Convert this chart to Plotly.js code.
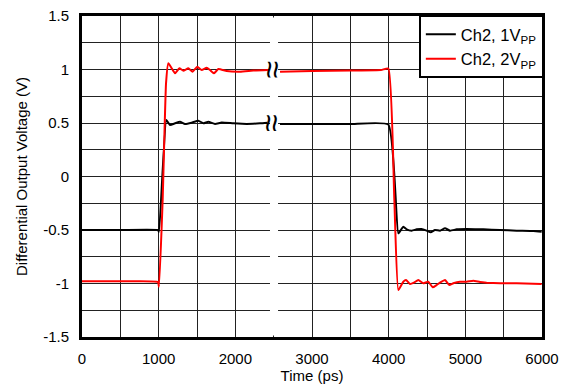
<!DOCTYPE html>
<html><head><meta charset="utf-8">
<script src="https://cdn.plot.ly/plotly-3.0.1.min.js"></script>
<style>body{margin:0;background:#fff}#chart{width:573px;height:388px}</style>
</head><body><div id="chart"></div>
<script>
const time1V = [0, 500, 990, 1004, 1100, 1148, 1213, 1278, 1343, 1430, 1517, 1583, 1648, 1735, 1822, 1974, 2148, 2322, 2420, 2500, 2583, 3000, 3500, 3996, 4126, 4191, 4235, 4300, 4365, 4430, 4495, 4548, 4604, 4670, 4735, 4800, 4887, 5017, 5235, 5452, 5670, 5887, 5996];
const volt1V = [-0.5, -0.5, -0.5, -0.516, 0.528, 0.481, 0.497, 0.512, 0.491, 0.503, 0.522, 0.497, 0.512, 0.491, 0.505, 0.497, 0.491, 0.497, 0.503, null, 0.491, 0.49, 0.49, 0.485, -0.531, -0.469, -0.494, -0.506, -0.494, -0.491, -0.506, -0.521, -0.5, -0.506, -0.484, -0.506, -0.494, -0.491, -0.494, -0.5, -0.506, -0.509, -0.516];
const time2V = [0, 500, 990, 1004, 1052, 1096, 1126, 1170, 1213, 1270, 1322, 1387, 1443, 1504, 1561, 1626, 1670, 1722, 1778, 1887, 2061, 2235, 2430, 2500, 2583, 3000, 3500, 3900, 3996, 4074, 4126, 4191, 4226, 4278, 4330, 4387, 4452, 4517, 4574, 4626, 4670, 4735, 4791, 4843, 4930, 5017, 5104, 5191, 5278, 5452, 5670, 5996];
const volt2V = [-0.98, -0.98, -0.985, -1.03, -0.22, 0.87, 1.058, 1.011, 0.964, 1.011, 0.989, 1.011, 0.98, 1.026, 0.995, 1.017, 0.995, 0.964, 1.005, 0.986, 0.98, 0.99, 0.995, null, 0.98, 0.985, 0.99, 0.995, 1.01, -0.22, -1.061, -0.983, -0.967, -1.005, -0.992, -0.967, -0.998, -0.983, -1.036, -1.014, -0.992, -0.967, -1.014, -0.998, -0.983, -0.983, -0.974, -0.986, -0.992, -0.998, -0.998, -1.005];
const seriesNames = ['Ch2, 1V<sub>PP</sub>', 'Ch2, 2V<sub>PP</sub>'];
const xTicks = [0, 1000, 2000, 3000, 4000, 5000, 6000];
const yTicks = [-1.5, -1, -0.5, 0, 0.5, 1, 1.5];

const font = {family: 'Liberation Sans, Arial, sans-serif', size: 15, color: '#000'};
const traces = [
  {x: time1V, y: volt1V, name: seriesNames[0], mode: 'lines', line: {color: '#000', width: 2, shape: 'spline', smoothing: 0.4}, connectgaps: false},
  {x: time2V, y: volt2V, name: seriesNames[1], mode: 'lines', line: {color: '#ff0000', width: 2, shape: 'spline', smoothing: 0.4}, connectgaps: false}
];
const layout = {
  width: 573, height: 388,
  margin: {l: 82, r: 31, t: 16, b: 51},
  paper_bgcolor: '#fff', plot_bgcolor: '#fff',
  font: font,
  showlegend: true,
  legend: {x: 1.004, y: 1.003, xanchor: 'right', yanchor: 'top', bgcolor: '#fff', bordercolor: '#000', borderwidth: 2,
           font: {family: font.family, size: 16.5, color: '#000'}, tracegroupgap: 0, itemwidth: 30},
  xaxis: {range: [0, 6000], tickvals: xTicks, ticktext: xTicks.map(String), showgrid: true, gridcolor: '#222', gridwidth: 1,
          minor: {dtick: 500, showgrid: true, gridcolor: '#222', gridwidth: 1},
          showline: true, mirror: true, linecolor: '#000', linewidth: 3, zeroline: false, ticks: '', ticklabelstandoff: 6,
          tickfont: {size: 15}, title: {text: 'Time (ps)', font: {size: 15}, standoff: 3}},
  yaxis: {range: [-1.5, 1.5], tickvals: yTicks, ticktext: yTicks.map(String), showgrid: true, gridcolor: '#222', gridwidth: 1,
          minor: {dtick: 0.25, showgrid: true, gridcolor: '#222', gridwidth: 1},
          showline: true, mirror: true, linecolor: '#000', linewidth: 3, zeroline: false, ticks: '', ticklabelstandoff: 7,
          tickfont: {size: 15}, title: {text: 'Differential Output Voltage (V)', font: {size: 15}, standoff: 12}},
  shapes: [{type: 'rect', xref: 'x', yref: 'y', x0: 2452, x1: 2557, y0: -1.485, y1: 1.485, fillcolor: '#fff', line: {width: 0}, layer: 'above'}],
  annotations: [
    {x: 2475, y: 0.5, xref: 'x', yref: 'y', text: '≈', textangle: 90, showarrow: false, font: {size: 32, color: '#000'}},
    {x: 2495, y: 0.995, xref: 'x', yref: 'y', text: '≈', textangle: 90, showarrow: false, font: {size: 32, color: '#000'}}
  ]
};
Plotly.newPlot('chart', traces, layout, {displayModeBar: false, staticPlot: true});
</script></body></html>
